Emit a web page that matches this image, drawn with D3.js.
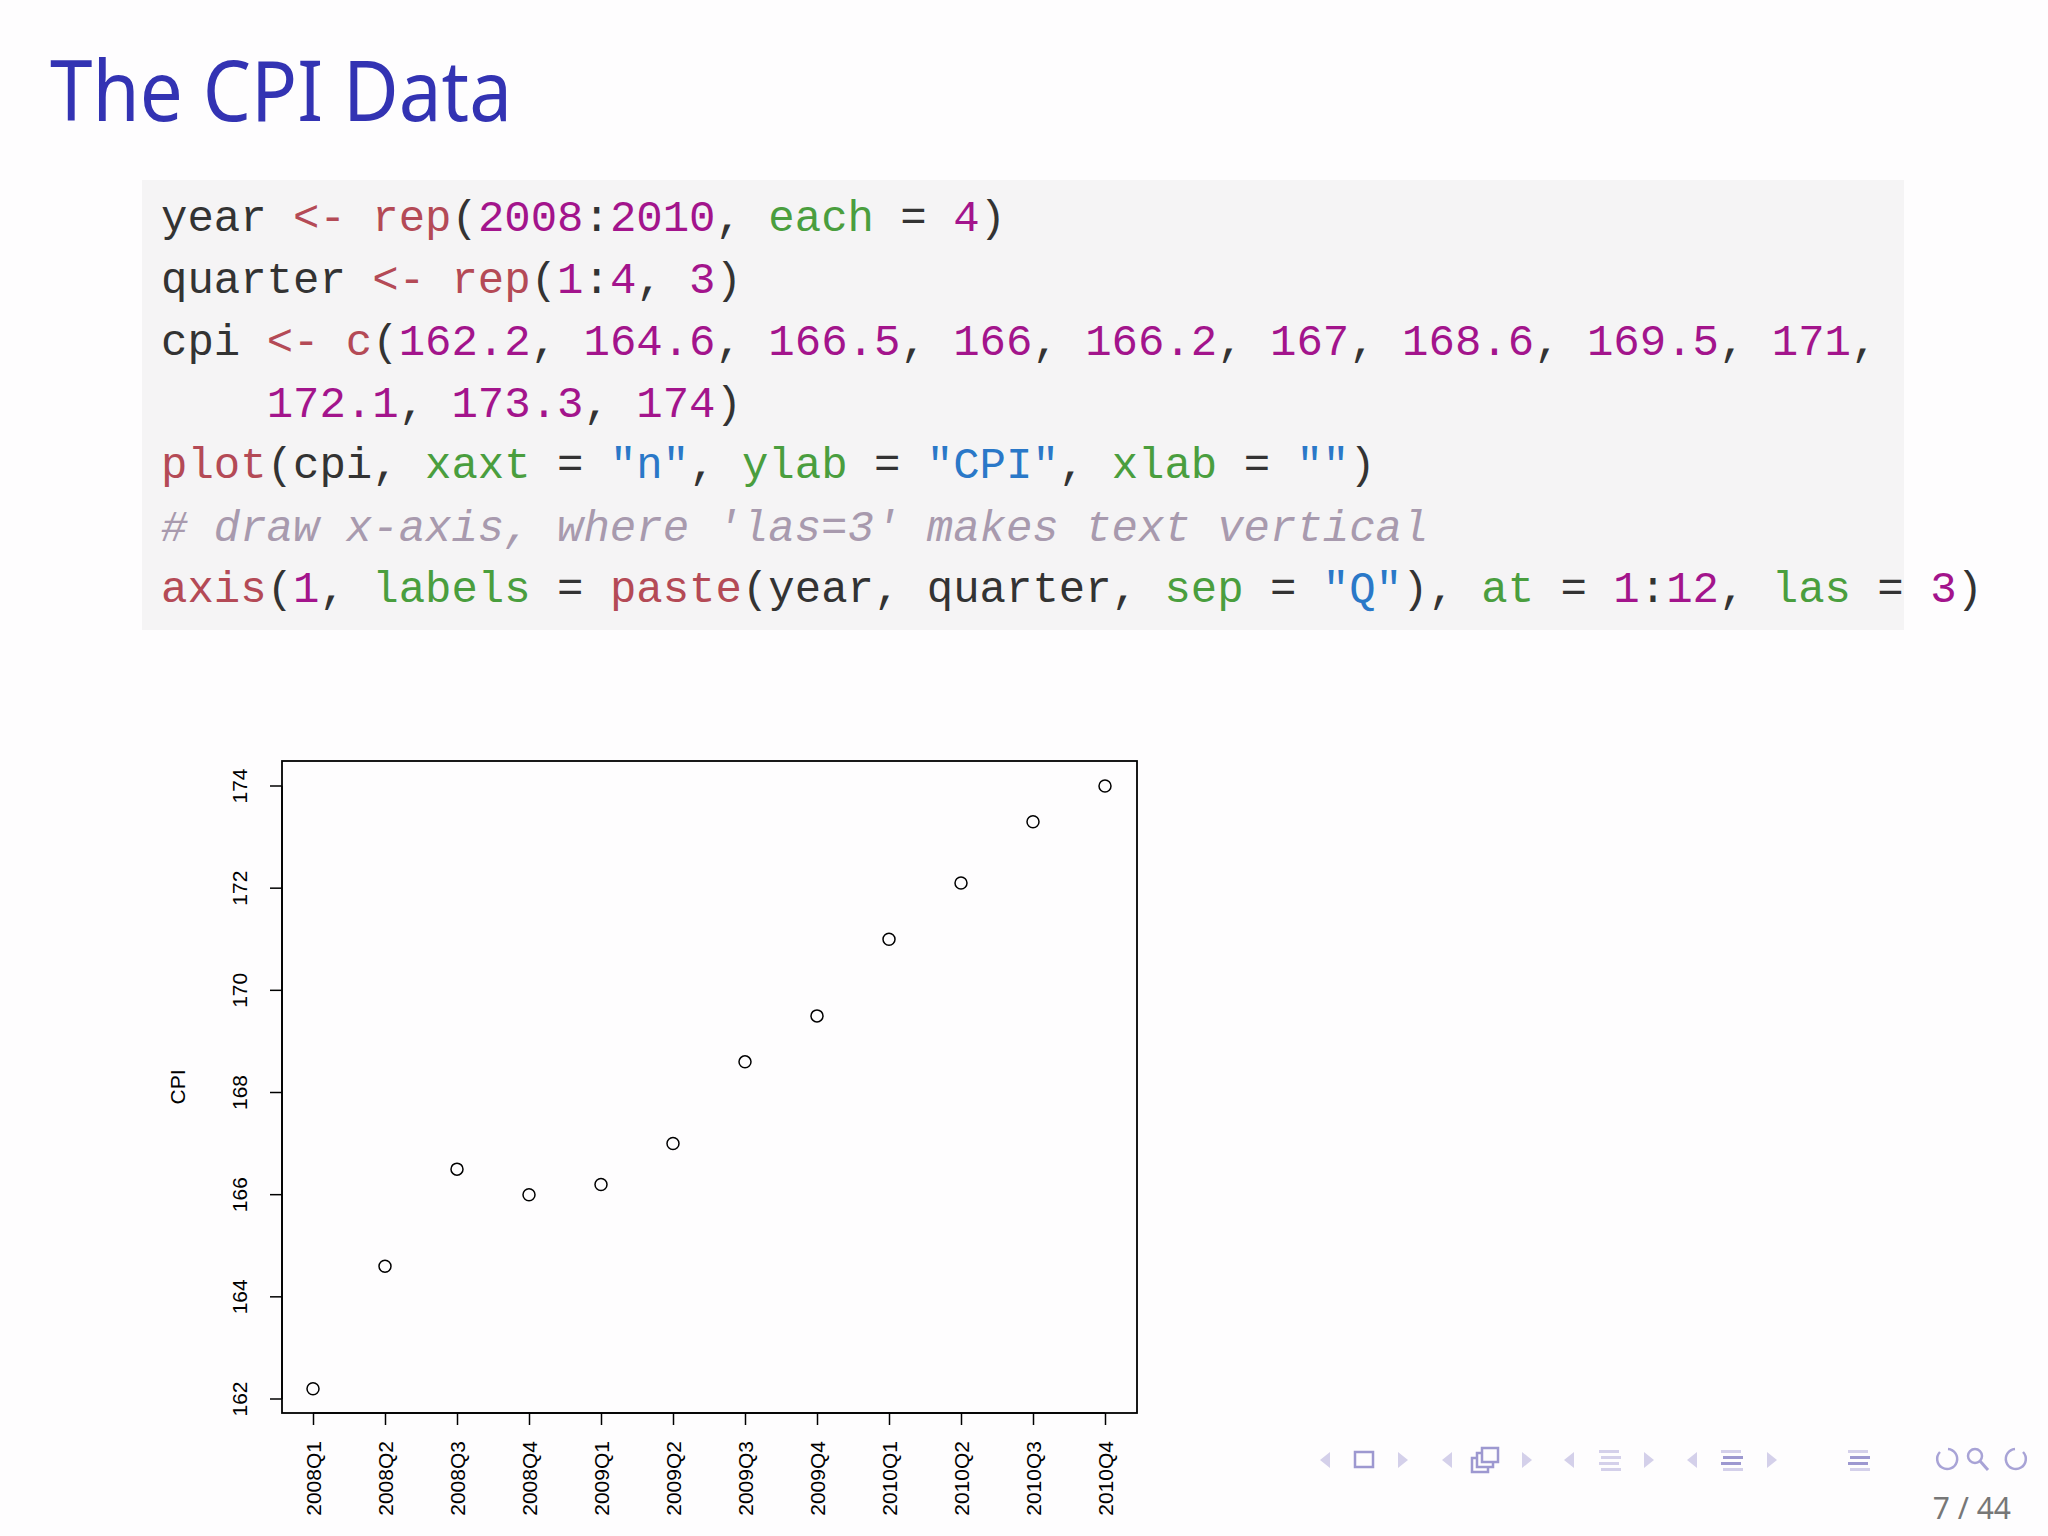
<!DOCTYPE html>
<html><head><meta charset="utf-8">
<script src="https://cdn.jsdelivr.net/npm/d3@7"></script>
<style>body{margin:0;background:#fff}svg{display:block}</style>
</head><body>
<script>
const categories = ["2008Q1","2008Q2","2008Q3","2008Q4","2009Q1","2009Q2","2009Q3","2009Q4","2010Q1","2010Q2","2010Q3","2010Q4"];
const cpi = [162.2,164.6,166.5,166,166.2,167,168.6,169.5,171,172.1,173.3,174];
const yTicks = [162,164,166,168,170,172,174];

const W=2048,H=1536;
const svg=d3.select("body").append("svg").attr("width",W).attr("height",H);
svg.append("rect").attr("width",W).attr("height",H).attr("fill","#fefdfe");

svg.append("text").attr("x",50).attr("y",121).attr("font-family","'Noto Sans', sans-serif")
  .attr("font-size",84).attr("fill","#3333b3").attr("textLength",462).attr("lengthAdjust","spacingAndGlyphs").text("The CPI Data");

// code block
svg.append("rect").attr("x",142).attr("y",180).attr("width",1762).attr("height",450).attr("fill","#f5f4f5");
const C={d:"#333",k:"#b44a56",n:"#a3148c",a:"#4a9e3e",s:"#2a78c8",c:"#a89aae"};
const code=[
 [["year ","d"],["<- ","k"],["rep","k"],["(","d"],["2008","n"],[":","d"],["2010","n"],[", ","d"],["each","a"],[" = ","d"],["4","n"],[")","d"]],
 [["quarter ","d"],["<- ","k"],["rep","k"],["(","d"],["1","n"],[":","d"],["4","n"],[", ","d"],["3","n"],[")","d"]],
 [["cpi ","d"],["<- ","k"],["c","k"],["(","d"],["162.2","n"],[", ","d"],["164.6","n"],[", ","d"],["166.5","n"],[", ","d"],["166","n"],[", ","d"],["166.2","n"],[", ","d"],["167","n"],[", ","d"],["168.6","n"],[", ","d"],["169.5","n"],[", ","d"],["171","n"],[",","d"]],
 [["    ","d"],["172.1","n"],[", ","d"],["173.3","n"],[", ","d"],["174","n"],[")","d"]],
 [["plot","k"],["(cpi, ","d"],["xaxt","a"],[" = ","d"],["\"n\"","s"],[", ","d"],["ylab","a"],[" = ","d"],["\"CPI\"","s"],[", ","d"],["xlab","a"],[" = ","d"],["\"\"","s"],[")","d"]],
 [["# draw x-axis, where 'las=3' makes text vertical","c"]],
 [["axis","k"],["(","d"],["1","n"],[", ","d"],["labels","a"],[" = ","d"],["paste","k"],["(year, quarter, ","d"],["sep","a"],[" = ","d"],["\"Q\"","s"],["), ","d"],["at","a"],[" = ","d"],["1","n"],[":","d"],["12","n"],[", ","d"],["las","a"],[" = ","d"],["3","n"],[")","d"]]
];
const baselines=[231,293,355,417,478,541,602];
code.forEach((line,i)=>{
  const t=svg.append("text").attr("x",161).attr("y",baselines[i]).attr("font-family","'Liberation Mono', monospace")
    .attr("font-size",44).attr("xml:space","preserve").style("white-space","pre");
  line.forEach(([s,c])=>t.append("tspan").attr("fill",C[c]).attr("font-style",c==="c"?"italic":null).text(s));
});

// plot
const L=282,R=1137,T=761,B=1413;
const x=d3.scaleLinear().domain([1,12]).range([313,1105]);
const y=d3.scaleLinear().domain([162,174]).range([1399,786]);
const g=svg.append("g");
g.append("rect").attr("x",L).attr("y",T).attr("width",R-L).attr("height",B-T).attr("fill","none").attr("stroke","#000").attr("stroke-width",1.8);
const ya=g.append("g").attr("transform",`translate(${L},0)`).call(d3.axisLeft(y).tickValues(yTicks).tickSize(12).tickFormat(d3.format("d")));
ya.select(".domain").attr("d",`M-12,${y(162)}H0M0,${y(162)}V${y(174)}`).remove();
ya.append("path").attr("d",`M0,${y(162)}V${y(174)}`).attr("stroke","#000").attr("stroke-width",1.5);
ya.selectAll(".tick line").attr("stroke-width",1.5);
ya.selectAll(".tick text").attr("transform",function(d){return `translate(${-42},${y(d)}) rotate(-90)`;})
  .attr("x",0).attr("y",0).attr("dy","0.35em").attr("text-anchor","middle").attr("font-size",21).attr("font-family","'Liberation Sans', Arial").attr("fill","#000")
  .each(function(d){d3.select(this.parentNode).attr("transform",null);d3.select(this.parentNode).select("line").attr("transform",`translate(0,${y(d)})`);});
const xa=g.append("g").attr("transform",`translate(0,${B})`).call(d3.axisBottom(x).tickValues(d3.range(1,13)).tickSize(12).tickFormat(d=>categories[d-1]));
xa.select(".domain").remove();
xa.append("path").attr("d",`M${x(1)},0H${x(12)}`).attr("stroke","#000").attr("stroke-width",1.5);
xa.selectAll(".tick line").attr("stroke-width",1.5);
xa.selectAll(".tick text").attr("transform","rotate(-90)").attr("x",-28).attr("y",0).attr("dy","0.35em").attr("text-anchor","end")
  .attr("font-size",21).attr("font-family","'Liberation Sans', Arial").attr("fill","#000");
g.append("text").attr("transform","translate(178,1087) rotate(-90)").attr("text-anchor","middle").attr("dy","0.35em")
  .attr("font-size",21).attr("font-family","'Liberation Sans', Arial").text("CPI");
g.selectAll("circle.pt").data(cpi).join("circle").attr("class","pt").attr("cx",(d,i)=>x(i+1)).attr("cy",d=>y(d)).attr("r",6)
  .attr("fill","none").attr("stroke","#000").attr("stroke-width",1.5);

// nav
const nav=svg.append("g").attr("fill","#c8c4e4").attr("stroke","none");
const tri=(cx,cy,dir)=>nav.append("path").attr("d",`M${cx+dir*5},${cy-8}L${cx-dir*5},${cy}L${cx+dir*5},${cy+8}Z`).attr("fill","#d4d0ea");
[[1325,1403],[1447,1527],[1569,1649],[1692,1772]].forEach(([a,b])=>{tri(a,1460,1);tri(b,1460,-1);});
nav.append("rect").attr("x",1355).attr("y",1452).attr("width",18).attr("height",15).attr("fill","none").attr("stroke","#9d98d0").attr("stroke-width",2.5);
[0,5,10].forEach(o=>nav.append("rect").attr("x",1472+o).attr("y",1458-o).attr("width",16).attr("height",14).attr("fill","#fefdfe").attr("stroke","#9d98d0").attr("stroke-width",2.5));
[[1609,"#d4d0ea"],[1731,"#9d98d0"],[1858,"#9d98d0"]].forEach(([cx,c])=>[0,1,2,3].forEach(k=>nav.append("rect").attr("x",cx-10+(k%2?2:0)).attr("y",1450+k*6).attr("width",20).attr("height",3).attr("fill",k===0||k===3?"#d4d0ea":c)));
nav.append("path").attr("d","M1940,1452a10,10 0 1,0 8,-3").attr("fill","none").attr("stroke","#a8a3d6").attr("stroke-width",2.5);
nav.append("circle").attr("cx",1975).attr("cy",1456).attr("r",7).attr("fill","none").attr("stroke","#a8a3d6").attr("stroke-width",2.5);
nav.append("path").attr("d","M1980,1461l8,9").attr("stroke","#a8a3d6").attr("stroke-width",3);
nav.append("path").attr("d","M2023,1452a10,10 0 1,1 -8,-3").attr("fill","none").attr("stroke","#a8a3d6").attr("stroke-width",2.5);
svg.append("text").attr("x",2011).attr("y",1519).attr("text-anchor","end").attr("font-family","'Noto Sans', sans-serif").attr("font-size",30).attr("fill","#777").text("7 / 44");
</script>
</body></html>
